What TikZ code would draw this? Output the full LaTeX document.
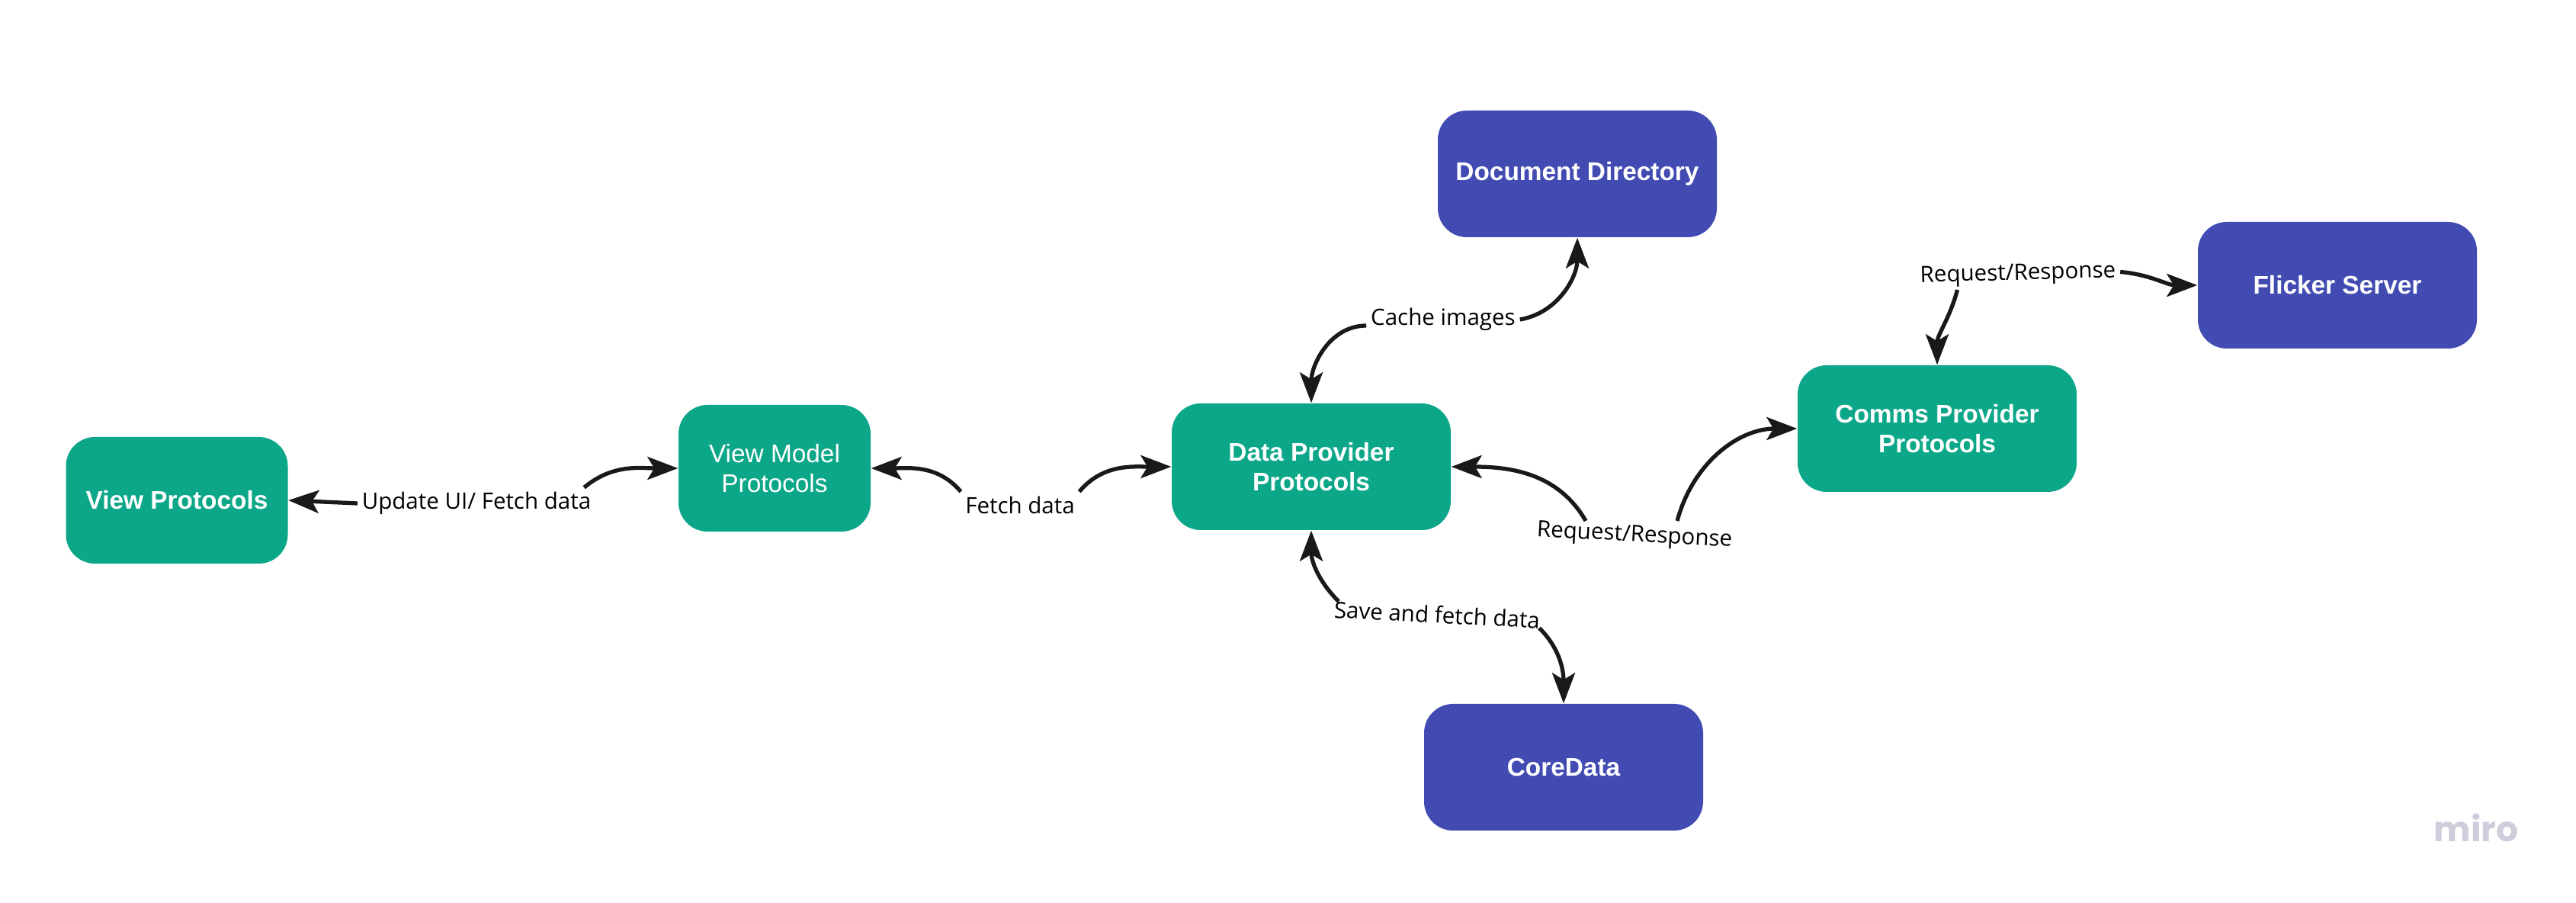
\documentclass[tikz,border=0pt]{standalone}
\usepackage{fontspec}
\setmainfont{Open Sans}
\newfontfamily\boxfont{Liberation Sans}
\newfontfamily\logofont{Poppins}
\usetikzlibrary{arrows.meta}
\definecolor{mirogreen}{HTML}{0CA789}
\definecolor{miroblue}{HTML}{414BB2}
\definecolor{logogray}{HTML}{CDCDDB}

\begin{document}
\begin{tikzpicture}[
  box/.style={rounded corners=3.8mm, text=white, align=center, inner sep=0pt,
    font=\boxfont\fontsize{9.5}{11}\selectfont\bfseries,
    minimum width=3.66cm, minimum height=1.66cm},
  greenbox/.style={box, fill=mirogreen},
  bluebox/.style={box, fill=miroblue},
  lbl/.style={font=\fontsize{8.4}{10}\selectfont, inner sep=1.5pt},
  conn/.style={draw=black!90, line width=1.5pt,
    -{Stealth[length=4mm, width=3mm, inset=0.9mm]}}]
  \useasboundingbox (0,0) rectangle (33.79,11.83);
  % Блоки
  \node[greenbox, minimum width=2.91cm] (vp) at (2.32,5.27) {View Protocols};
  \node[greenbox, minimum width=2.52cm, font=\boxfont\fontsize{9.5}{11}\selectfont]
    (vm) at (10.16,5.69) {View Model\\Protocols};
  \node[greenbox] (dp) at (17.20,5.71) {Data Provider\\Protocols};
  \node[bluebox] (dd) at (20.69,9.55) {Document Directory};
  \node[greenbox] (cp) at (25.41,6.21) {Comms Provider\\Protocols};
  \node[bluebox] (fs) at (30.66,8.09) {Flicker Server};
  \node[bluebox] (cd) at (20.51,1.77) {CoreData};
  % Подписи
  \node[lbl] (ud) at (6.25,5.23) {Update UI/ Fetch data};
  \node[lbl] (fd) at (13.38,5.21) {Fetch data};
  \node[lbl] (ci) at (18.93,7.64) {Cache images};
  \node[lbl, rotate=-3] (rr1) at (21.44,4.80) {Request/Response};
  \node[lbl, rotate=1.5] (rr2) at (26.47,8.23) {Request/Response};
  \node[lbl, rotate=-3] (sf) at (18.85,3.77) {Save and fetch data};
  % Связи
  \draw[conn] (ud.west) -- (vp.east);
  \draw[conn] ([xshift=-1.5mm]ud.north east) to[out=40, in=180] (vm.west);
  \draw[conn] (fd.north west) to[out=130, in=0] (vm.east);
  \draw[conn] (fd.north east) to[out=50, in=180] (dp.west);
  \draw[conn] ([yshift=-0.8mm]ci.west) to[out=180, in=90] (dp.north);
  \draw[conn] (ci.east) to[out=10, in=-90] (dd.south);
  \draw[conn] ([xshift=-6.5mm]rr1.north) to[out=120, in=0] (dp.east);
  \draw[conn] ([xshift=5.5mm]rr1.north) to[out=75, in=180] (cp.west);
  \draw[conn] ([xshift=-8mm]rr2.south) to[out=-105, in=90] (cp.north);
  \draw[conn] (rr2.east) to[out=-5, in=180] (fs.west);
  \draw[conn] ([xshift=-13mm]sf.north) to[out=135, in=-90] (dp.south);
  \draw[conn] ([xshift=13.5mm]sf.south) to[out=-45, in=90] (cd.north);
  % Логотип
  \node[font=\logofont\bfseries\fontsize{13}{13}\selectfont, text=logogray]
    (logo) at (32.48,0.98) {miro};
\end{tikzpicture}
\end{document}
